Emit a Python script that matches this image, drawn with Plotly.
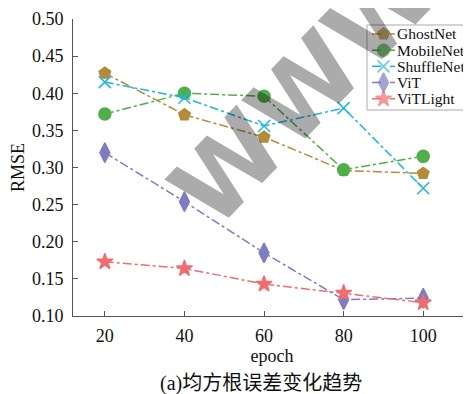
import plotly.graph_objects as go

epochs = [20, 40, 60, 80, 100]
ghostnet = [0.427, 0.371, 0.341, 0.296, 0.292]
mobilenet = [0.372, 0.400, 0.396, 0.297, 0.315]
shufflenet = [0.415, 0.394, 0.356, 0.380, 0.272]
vit = [0.320, 0.254, 0.185, 0.122, 0.124]
vitlight = [0.173, 0.164, 0.143, 0.131, 0.118]
y_ticks = [0.10, 0.15, 0.20, 0.25, 0.30, 0.35, 0.40, 0.45, 0.50]
names = ["GhostNet", "MobileNet", "ShuffleNet", "ViT", "ViTLight"]

colors = ["#B38B3A", "#4FAF4A", "#22B5DA", "#7C7EC0", "#EE6E70"]
symbols = ["pentagon", "circle", "x-thin-open", "diamond-tall", "star"]
sizes = [12, 12, 12, 14, 12]
values = [ghostnet, mobilenet, shufflenet, vit, vitlight]

FONT = "Liberation Serif"
fig = go.Figure()

# legend box (custom, drawn below traces)
LX0, LX1, LY0, LY1 = 0.7387, 1.05, 0.6936, 0.9798
fig.add_shape(type="rect", xref="paper", yref="paper", x0=LX0, x1=LX1, y0=LY0, y1=LY1,
              fillcolor="white", line=dict(color="#AAAAAA", width=1), layer="below")

for name, vals, color, sym, size in zip(names, values, colors, symbols, sizes):
    fig.add_trace(go.Scatter(
        x=epochs, y=vals, name=name, mode="lines+markers", showlegend=False,
        line=dict(color=color, width=1.5, dash="dashdot"),
        marker=dict(symbol=sym, size=size, color=color,
                    line=dict(color=color, width=1.5)),
    ))

# legend entries on an invisible overlay axis spanning the plot area
row_top, row_step = 0.9495, 0.0545
sx0, sxm, sx1, tx = 0.7513, 0.7802, 0.8090, 0.8090
for i, (name, color, sym, size) in enumerate(zip(names, colors, symbols, sizes)):
    yy = row_top - i * row_step
    fig.add_trace(go.Scatter(
        x=[sx0, sxm, sx1], y=[yy, yy, yy], mode="lines+markers", showlegend=False,
        xaxis="x2", yaxis="y2", cliponaxis=False, hoverinfo="skip",
        line=dict(color=color, width=1.5, dash="dash"),
        marker=dict(symbol=sym, size=[0, size, 0], color=color,
                    line=dict(color=color, width=1.5)),
    ))
    fig.add_annotation(text=name, x=tx, y=yy, xref="paper", yref="paper",
                       xanchor="left", yanchor="middle", showarrow=False,
                       font=dict(family=FONT, size=15.5, color="#111"))

fig.add_annotation(
    text="<b>WWW</b>", x=0.583, y=0.761, xref="paper", yref="paper",
    xanchor="center", yanchor="middle",
    showarrow=False, textangle=-46,
    font=dict(family="DejaVu Sans", size=100, color="rgba(0,0,0,0.33)"),
)

fig.update_layout(
    width=463, height=386,
    margin=dict(l=65, r=0, t=11, b=78),
    paper_bgcolor="white", plot_bgcolor="white",
    font=dict(family=FONT, size=18, color="#111"),
    showlegend=False,
    xaxis=dict(range=[12, 112], tickvals=epochs, ticks="inside", ticklen=5,
               showline=True, linecolor="#555", linewidth=1, showgrid=False,
               zeroline=False, tickcolor="#555", ticklabelstandoff=3,
               title=dict(text="epoch", standoff=4, font=dict(size=18))),
    yaxis=dict(range=[0.1, 0.5], tickvals=y_ticks, tickformat=".2f",
               ticks="inside", ticklen=5, showline=True, linecolor="#555",
               linewidth=1, showgrid=False, zeroline=False, tickcolor="#555",
               ticklabelstandoff=5,
               title=dict(text="RMSE", standoff=8, font=dict(size=18))),
    xaxis2=dict(range=[0, 1], overlaying="x", visible=False, fixedrange=True),
    yaxis2=dict(range=[0, 1], overlaying="y", visible=False, fixedrange=True),
)

fig.add_annotation(
    text="(a)均方根误差变化趋势", x=0.472, y=-0.2256, xref="paper", yref="paper",
    xanchor="center", yanchor="middle", showarrow=False,
    font=dict(family="Liberation Serif, Noto Sans CJK SC", size=20, color="#111"),
)

fig.write_html("out.html")
